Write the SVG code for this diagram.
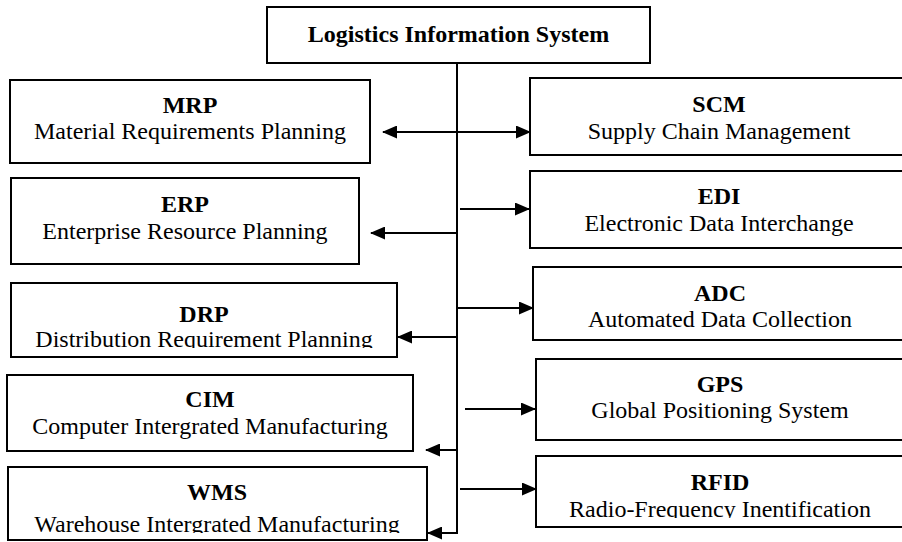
<svg xmlns="http://www.w3.org/2000/svg" width="902" height="542" viewBox="0 0 902 542">
<style>
.box{fill:#fff;stroke:#000;stroke-width:2}
.t{font-family:"Liberation Serif","Times New Roman",serif;font-size:24px;fill:#000;text-anchor:middle}
.b{font-weight:bold}
.c{stroke:#000;stroke-width:2;fill:none}
</style>
<defs>
<marker id="ah" markerUnits="userSpaceOnUse" markerWidth="15" markerHeight="13" refX="14" refY="6.5" orient="auto-start-reverse">
<path d="M0,0 L15,6.5 L0,13 z" fill="#000"/>
</marker>
<clipPath id="clipDRP"><rect x="0" y="280" width="420" height="68"/></clipPath>
<clipPath id="clipWMS"><rect x="0" y="460" width="440" height="73"/></clipPath>
<clipPath id="clipRFID"><rect x="530" y="450" width="380" height="68"/></clipPath>
</defs>
<rect width="902" height="542" fill="#fff"/>
<g id="connectors">
<line class="c" x1="457" y1="63" x2="457" y2="534"/>
<line class="c" x1="383" y1="132" x2="530" y2="132" marker-start="url(#ah)" marker-end="url(#ah)"/>
<line class="c" x1="458" y1="233" x2="371" y2="233" marker-end="url(#ah)"/>
<line class="c" x1="460" y1="209" x2="529" y2="209" marker-end="url(#ah)"/>
<line class="c" x1="457" y1="308" x2="533" y2="308" marker-end="url(#ah)"/>
<line class="c" x1="458" y1="337" x2="398" y2="337" marker-end="url(#ah)"/>
<line class="c" x1="465" y1="409" x2="535" y2="409" marker-end="url(#ah)"/>
<line class="c" x1="458" y1="450" x2="426" y2="450" marker-end="url(#ah)"/>
<line class="c" x1="460" y1="489" x2="536" y2="489" marker-end="url(#ah)"/>
<line class="c" x1="458" y1="533" x2="428" y2="533" marker-end="url(#ah)"/>
</g>
<g id="lis">
<rect class="box" x="267" y="7" width="383" height="56"/>
<text class="t b" x="458.5" y="42">Logistics Information System</text>
</g>
<g id="mrp">
<rect class="box" x="10" y="80" width="360" height="83"/>
<text class="t b" x="190" y="113">MRP</text>
<text class="t" x="190" y="139">Material Requirements Planning</text>
</g>
<g id="erp">
<rect class="box" x="11" y="178" width="348" height="86"/>
<text class="t b" x="185" y="212">ERP</text>
<text class="t" x="185" y="239">Enterprise Resource Planning</text>
</g>
<g id="drp">
<rect class="box" x="11" y="283" width="386" height="74"/>
<text class="t b" x="204" y="322">DRP</text>
<text class="t" x="204" y="347" clip-path="url(#clipDRP)">Distribution Requirement Planning</text>
</g>
<g id="cim">
<rect class="box" x="7" y="375" width="406" height="76"/>
<text class="t b" x="210" y="407">CIM</text>
<text class="t" x="210" y="434">Computer Intergrated Manufacturing</text>
</g>
<g id="wms">
<rect class="box" x="8" y="467" width="419" height="73"/>
<text class="t b" x="217" y="500">WMS</text>
<text class="t" x="217" y="532" clip-path="url(#clipWMS)">Warehouse Intergrated Manufacturing</text>
</g>
<g id="scm">
<rect class="box" x="530" y="78" width="380" height="77"/>
<text class="t b" x="719" y="112">SCM</text>
<text class="t" x="719" y="139">Supply Chain Management</text>
</g>
<g id="edi">
<rect class="box" x="530" y="171" width="380" height="77"/>
<text class="t b" x="719" y="204">EDI</text>
<text class="t" x="719" y="231">Electronic Data Interchange</text>
</g>
<g id="adc">
<rect class="box" x="533" y="267" width="380" height="73"/>
<text class="t b" x="720" y="301">ADC</text>
<text class="t" x="720" y="327">Automated Data Collection</text>
</g>
<g id="gps">
<rect class="box" x="536" y="359" width="380" height="81"/>
<text class="t b" x="720" y="392">GPS</text>
<text class="t" x="720" y="418">Global Positioning System</text>
</g>
<g id="rfid">
<rect class="box" x="536" y="456" width="380" height="71"/>
<text class="t b" x="720" y="490">RFID</text>
<text class="t" x="720" y="517" clip-path="url(#clipRFID)">Radio-Frequency Inentification</text>
</g>
</svg>
